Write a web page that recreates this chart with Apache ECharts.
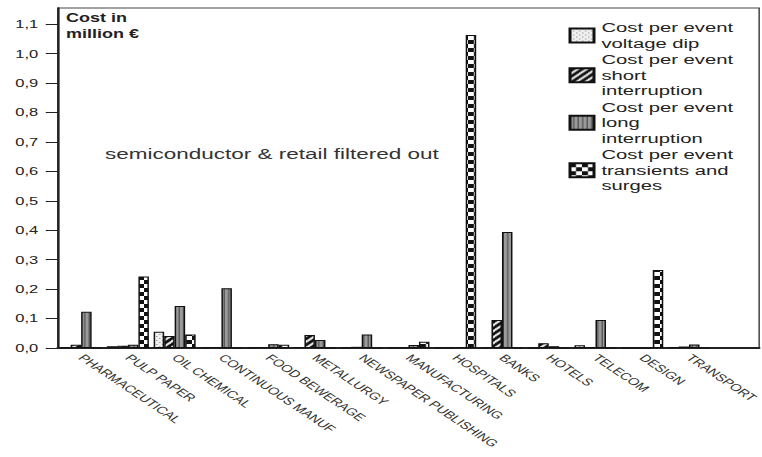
<!DOCTYPE html>
<html>
<head>
<meta charset="utf-8">
<script src="https://cdn.jsdelivr.net/npm/echarts@6/dist/echarts.min.js"></script>
<style>
    html, body { margin: 0; padding: 0; background: #fff; overflow: hidden; }
    /* the source picture is stretched sideways, so draw narrow and stretch */
    #chart { width: 508px; height: 457px; transform: scaleX(1.5); transform-origin: 0 0; }
</style>
</head>
<body>
<div id="chart"></div>
<script>
const categories = ['PHARMACEUTICAL', 'PULP PAPER', 'OIL CHEMICAL', 'CONTINUOUS MANUF', 'FOOD BEWERAGE',
    'METALLURGY', 'NEWSPAPER PUBLISHING', 'MANUFACTURING', 'HOSPITALS', 'BANKS', 'HOTELS',
    'TELECOM', 'DESIGN', 'TRANSPORT'];

const voltageDip = [0, 0.006, 0.055, 0.002, 0.001, 0.003, 0.001, 0.001, 0.002, 0, 0, 0.009, 0, 0.003];
const shortInterruption = [0.011, 0.008, 0.041, 0.003, 0.003, 0.044, 0.004, 0.002, 0.002, 0.095, 0.016, 0.003, 0, 0.005];
const longInterruption = [0.123, 0.011, 0.143, 0.203, 0.013, 0.027, 0.046, 0.010, 0.003, 0.394, 0.006, 0.095, 0, 0.012];
const transients = [0, 0.243, 0.046, 0, 0.011, 0, 0, 0.021, 1.063, 0, 0, 0, 0.265, 0];

const yTicks = [0, 0.1, 0.2, 0.3, 0.4, 0.5, 0.6, 0.7, 0.8, 0.9, 1.0, 1.1];

const seriesNames = [
    'Cost per event\nvoltage dip',
    'Cost per event\nshort\ninterruption',
    'Cost per event\nlong\ninterruption',
    'Cost per event\ntransients and\nsurges'
];

function pattern(w, h, draw) {
    const c = document.createElement('canvas');
    c.width = w;
    c.height = h;
    draw(c.getContext('2d'));
    return { image: c, repeat: 'repeat' };
}

const dotFill = pattern(4, 4, ctx => {
    ctx.fillStyle = '#f0f0f0';
    ctx.fillRect(0, 0, 4, 4);
    ctx.fillStyle = '#999';
    ctx.fillRect(0, 0, 1, 1);
    ctx.fillRect(2, 2, 1, 1);
});
const hatchFill = pattern(6, 6, ctx => {
    ctx.fillStyle = '#111';
    ctx.fillRect(0, 0, 6, 6);
    ctx.strokeStyle = '#fff';
    ctx.lineWidth = 1.6;
    [[0, 6, 6, 0], [-3, 3, 3, -3], [3, 9, 9, 3]].forEach(l => {
        ctx.beginPath();
        ctx.moveTo(l[0], l[1]);
        ctx.lineTo(l[2], l[3]);
        ctx.stroke();
    });
});
const stripeFill = pattern(3, 2, ctx => {
    ctx.fillStyle = '#9a9a9a';
    ctx.fillRect(0, 0, 3, 2);
    ctx.fillStyle = '#5a5a5a';
    ctx.fillRect(2, 0, 1, 2);
});
const checkFill = pattern(8, 8, ctx => {
    ctx.fillStyle = '#fff';
    ctx.fillRect(0, 0, 8, 8);
    ctx.fillStyle = '#111';
    ctx.fillRect(0, 0, 4, 4);
    ctx.fillRect(4, 4, 4, 4);
});

function bars(name, data, fill) {
    return {
        name: name,
        type: 'bar',
        data: data,
        barWidth: 7,
        barGap: '0%',
        itemStyle: { color: fill, borderColor: '#111', borderWidth: 1 },
        emphasis: { disabled: true }
    };
}

const chart = echarts.init(document.getElementById('chart'), null, { renderer: 'svg' });

chart.setOption({
    animation: false,
    backgroundColor: '#fff',
    title: [{
        text: 'Cost in\nmillion €',
        left: 44,
        top: 10,
        padding: 0,
        textStyle: { fontFamily: 'Liberation Sans', fontSize: 12, fontWeight: 'bold', lineHeight: 16, color: '#222' }
    }, {
        text: 'semiconductor & retail filtered out',
        left: 70,
        top: 146,
        padding: 0,
        textStyle: { fontFamily: 'Liberation Sans', fontSize: 15, fontWeight: 'normal', color: '#333' }
    }],
    legend: {
        orient: 'vertical',
        left: 379,
        top: 20,
        padding: 0,
        itemGap: 1,
        itemWidth: 16,
        itemHeight: 14,
        icon: 'rect',
        data: seriesNames,
        textStyle: { fontFamily: 'Liberation Sans', fontSize: 13.5, lineHeight: 15.5, color: '#222' }
    },
    grid: {
        left: 38.5,
        right: -15,
        top: 8,
        bottom: 109,
        show: true,
        borderColor: '#444',
        borderWidth: 1
    },
    xAxis: {
        type: 'category',
        data: categories,
        max: 14,
        axisLine: { lineStyle: { color: '#222', width: 1.8 } },
        axisTick: { alignWithLabel: true, length: 8, lineStyle: { color: '#222', width: 1 } },
        axisLabel: {
            interval: 0,
            rotate: -45,
            margin: 8,
            fontFamily: 'Liberation Sans',
            fontSize: 10,
            color: '#333',
            formatter: v => v || ''
        }
    },
    yAxis: {
        type: 'value',
        min: 0,
        max: 1.155,
        interval: 0.1,
        splitLine: { show: false },
        axisLine: { show: true, lineStyle: { color: '#222', width: 1.5 } },
        axisTick: { show: true, length: 8, customValues: yTicks, lineStyle: { color: '#222' } },
        axisLabel: {
            customValues: yTicks,
            margin: 13,
            fontFamily: 'Liberation Sans',
            fontSize: 11,
            color: '#222',
            formatter: v => v.toFixed(1).replace('.', ',')
        }
    },
    series: [
        bars(seriesNames[0], voltageDip, dotFill),
        bars(seriesNames[1], shortInterruption, hatchFill),
        bars(seriesNames[2], longInterruption, stripeFill),
        bars(seriesNames[3], transients, checkFill)
    ]
});
</script>
</body>
</html>
